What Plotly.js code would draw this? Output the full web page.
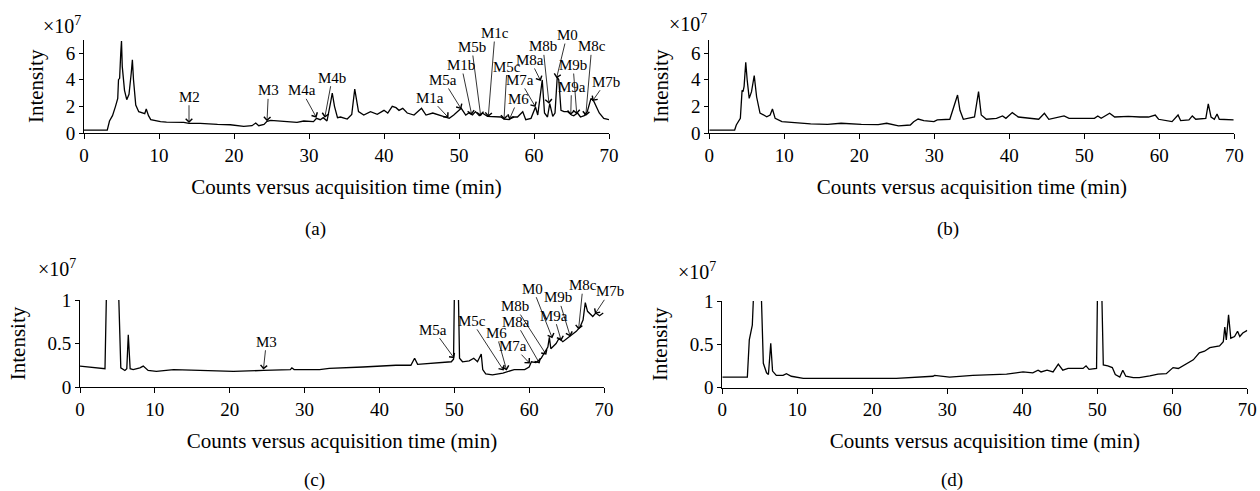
<!DOCTYPE html>
<html><head><meta charset="utf-8">
<script src="https://cdn.plot.ly/plotly-3.0.1.min.js"></script>
<style>html,body{margin:0;padding:0;background:#fff}#chart{width:1260px;height:491px}</style>
</head><body><div id="chart"></div>
<script>
// ---------- DATA (time in min, intensity in units of 1e7) ----------
const timeA = [0,3.1,3.4,3.8,4.2,4.5,4.6,4.75,4.9,5.0,5.1,5.4,5.7,6.0,6.3,6.45,6.6,6.9,7.3,7.8,8.1,8.3,8.6,8.9,10.2,11.0,13.3,14.0,15.5,17.8,19.5,21.3,22.4,22.9,23.3,24.0,24.4,24.9,26.6,28.4,29.3,30.6,31.0,31.5,31.9,32.4,32.9,33.1,33.4,33.8,34.2,35.1,35.7,36.1,36.6,37.3,38.2,39.1,40.0,40.5,41.1,41.6,42.0,42.5,43.1,44.0,45.0,45.6,46.5,47.3,48.2,48.7,49.3,50.0,50.3,50.9,51.3,51.8,52.2,52.7,53.1,53.8,54.7,55.6,56.0,56.7,57.1,57.8,58.5,58.9,59.6,60.2,60.5,60.7,61.0,61.1,61.4,61.8,62.1,62.5,62.8,63.1,63.3,63.6,64.0,64.5,65.0,65.3,65.8,66.2,66.7,67.1,67.6,68.0,68.7,69.3,70.0];
const intensityA = [0.22,0.22,0.9,1.3,2.0,2.6,4.0,4.1,6.0,6.9,5.0,3.2,2.5,2.9,4.5,5.5,4.0,2.1,1.6,1.5,1.45,1.8,1.3,1.0,0.85,0.82,0.8,0.72,0.72,0.65,0.62,0.5,0.55,0.75,0.55,0.65,0.88,0.95,0.9,0.8,0.9,0.85,1.1,1.0,1.15,0.9,2.35,3.0,2.0,1.15,1.2,1.05,1.4,3.3,1.6,1.35,1.6,1.4,1.7,1.5,2.0,1.9,1.7,1.85,1.5,1.35,1.85,1.35,1.5,1.35,1.2,1.1,1.35,1.7,1.85,1.35,1.5,1.35,1.6,1.3,1.5,1.25,1.25,1.2,1.05,1.0,1.2,1.2,1.6,1.0,1.1,1.95,1.35,2.35,3.7,3.98,1.5,1.2,2.2,1.25,1.5,4.2,4.0,1.7,1.6,1.6,1.35,1.3,1.5,1.2,1.3,1.6,2.6,2.35,1.5,1.1,1.0];

const timeB = [0,3.38,3.6,4.14,4.37,4.5,4.64,4.86,5.05,5.32,5.63,5.99,6.31,6.76,7.66,8.11,8.42,8.78,9.68,11.26,13.51,15.77,17.57,20.27,22.52,23.65,25.23,26.8,27.25,27.84,28.6,29.95,30.4,32.07,32.52,33.1,33.42,33.87,35.36,35.9,36.26,36.94,38.29,39.1,39.55,40.4,41.2,43.24,43.92,44.68,45.27,47.3,47.97,51.35,51.8,52.25,53.38,54.05,55.86,57.43,58.56,59.46,59.9,61.7,62.5,62.84,63.96,64.4,64.86,66.2,66.53,66.9,67.34,67.7,68.0,69.9];
const intensityB = [0.22,0.22,0.6,1.1,3.2,3.1,3.5,5.3,3.98,2.6,3.1,4.3,2.7,1.5,1.22,1.35,1.8,1.1,0.85,0.78,0.68,0.65,0.73,0.65,0.63,0.73,0.53,0.6,0.85,1.05,0.93,0.85,0.98,1.03,1.85,2.85,1.7,1.03,1.2,3.1,1.35,1.03,1.1,1.28,1.1,1.53,1.2,1.03,1.03,1.48,1.03,1.28,1.1,1.1,1.28,1.1,1.48,1.2,1.25,1.2,1.2,1.35,1.03,0.85,1.35,0.93,0.98,1.28,1.03,1.1,2.18,1.2,1.03,1.43,1.03,0.98];

const timeC = [0,3.34,3.56,4.4,5.12,5.45,6.0,6.25,6.45,6.7,7.1,8.0,8.45,9.1,10.2,12.5,16.0,20.5,24.5,28.1,28.3,28.6,32.0,33.3,37.8,42.2,44.2,44.7,45.1,48.0,49.6,49.9,50.05,50.3,50.5,50.7,51.1,52.0,52.6,52.9,53.1,53.6,53.8,54.2,55.1,56.5,57.4,58.0,59.4,60.0,60.3,60.9,61.6,62.2,62.5,62.7,62.9,63.6,64.0,64.5,65.4,66.3,66.8,67.2,67.5,67.8,68.5,68.9,69.4,69.9];
const intensityC = [0.24,0.21,1.2,5.0,1.2,0.22,0.19,0.21,0.6,0.21,0.2,0.22,0.24,0.19,0.18,0.2,0.19,0.18,0.19,0.2,0.22,0.2,0.2,0.215,0.23,0.25,0.25,0.33,0.26,0.28,0.29,0.32,1.3,3.0,1.3,0.33,0.29,0.3,0.33,0.31,0.29,0.38,0.2,0.15,0.14,0.16,0.18,0.2,0.2,0.23,0.29,0.28,0.33,0.41,0.46,0.57,0.44,0.5,0.56,0.52,0.58,0.64,0.69,0.77,0.97,0.87,0.81,0.85,0.82,0.85];

const timeD = [0,3.34,3.6,3.78,4.0,4.23,4.7,5.16,5.47,5.9,6.15,6.46,6.7,7.2,8.1,8.55,9.2,10.8,14.3,18.8,23.2,28.1,28.3,30.3,33.4,37.9,40.1,41.4,42.1,42.5,43.3,44.1,44.8,45.4,46.1,48.1,48.5,48.9,49.9,50.05,50.3,50.55,50.8,51.4,52.0,52.4,53.0,53.4,53.8,54.8,55.6,57.0,58.1,59.2,59.6,60.1,60.8,61.9,62.8,63.6,64.3,65.0,65.6,66.3,66.8,67.0,67.2,67.5,67.8,68.3,68.7,69.0,69.4,70.0];
const intensityD = [0.12,0.12,0.55,0.65,0.72,1.2,5.0,1.2,0.28,0.17,0.15,0.51,0.19,0.14,0.14,0.16,0.13,0.105,0.105,0.1,0.105,0.13,0.14,0.12,0.14,0.155,0.18,0.17,0.2,0.18,0.2,0.18,0.27,0.2,0.22,0.22,0.25,0.21,0.22,1.3,3.0,1.3,0.26,0.25,0.23,0.15,0.12,0.2,0.13,0.115,0.115,0.135,0.155,0.16,0.19,0.23,0.22,0.28,0.32,0.4,0.42,0.46,0.47,0.48,0.53,0.7,0.55,0.84,0.57,0.59,0.65,0.59,0.63,0.66];

// peak labels: label, label position (time, intensity), arrow tip (time, intensity)
const labelsA   = ['M2','M3','M4a','M4b','M1a','M5a','M1b','M5b','M1c','M5c','M7a','M6','M8a','M8b','M0','M9b','M8c','M9a','M7b'];
const labelTA   = [14.0,24.6,29.0,33.1,46.1,47.9,50.3,51.7,54.8,56.4,58.1,57.9,59.5,61.2,64.4,65.2,67.7,65.0,69.6];
const labelVA   = [2.72,3.2,3.2,4.15,2.65,3.98,5.1,6.45,7.5,4.97,3.98,2.55,5.48,6.5,7.35,5.1,6.5,3.47,3.85];
const tipTA     = [14.0,24.4,31.0,32.1,48.6,50.3,51.7,52.9,53.9,56.0,60.2,56.7,60.9,62.0,63.0,65.7,66.9,64.9,67.8];
const tipVA     = [0.75,0.88,1.15,1.15,1.15,1.8,1.35,1.25,1.2,1.0,1.95,1.0,3.9,2.2,4.1,1.4,1.28,1.35,2.4];

const labelsC   = ['M3','M5a','M5c','M6','M7a','M8a','M8b','M0','M9a','M9b','M8c','M7b'];
const labelTC   = [24.9,47.2,52.3,55.6,57.9,58.2,58.1,60.5,63.3,63.9,67.2,70.8];
const labelVC   = [0.52,0.66,0.76,0.62,0.47,0.75,0.93,1.13,0.82,1.03,1.17,1.1];
const tipTC     = [24.5,50.0,56.6,57.0,60.1,61.4,62.3,63.1,64.3,65.5,66.6,68.8];
const tipVC     = [0.2,0.33,0.19,0.19,0.27,0.27,0.37,0.56,0.53,0.58,0.66,0.84];

const xTicks = [0,10,20,30,40,50,60,70];
const yTicksTop = [0,2,4,6];
const yTicksBottom = [0,0.5,1];
const xTitle = 'Counts versus acquisition time (min)';
const yTitle = 'Intensity';
const panelTags = ['(a)','(b)','(c)','(d)'];

// ---------- LAYOUT ----------
const W = 1260, H = 491;
const F = "'Liberation Serif', 'Times New Roman', serif";
const px2x = p => p / W;
const px2y = p => 1 - p / H;

function line(t, v, xa, ya) {
  return {x: t, y: v, xaxis: xa, yaxis: ya, type: 'scatter', mode: 'lines',
          line: {color: '#000', width: 1.3}, hoverinfo: 'skip', showlegend: false};
}
function xAxis(d0, d1, anchor) {
  return {domain: [px2x(d0), px2x(d1)], anchor: anchor, range: [0, 70], tickvals: xTicks,
    showline: true, linecolor: '#000', linewidth: 1, ticks: 'outside', ticklen: 5, tickwidth: 1, tickcolor: '#000',
    showgrid: false, zeroline: false, tickfont: {family: F, size: 19, color: '#000'},
    title: {text: xTitle, font: {family: F, size: 21, color: '#000'}, standoff: 14}, fixedrange: true};
}
function yAxis(p0, p1, anchor, range, ticks) {
  return {domain: [px2y(p0), px2y(p1)], anchor: anchor, range: range, tickvals: ticks,
    showline: true, linecolor: '#000', linewidth: 1, ticks: 'outside', ticklen: 4, tickwidth: 1, tickcolor: '#000',
    showgrid: false, zeroline: false, tickfont: {family: F, size: 19, color: '#000'},
    title: {text: yTitle, font: {family: F, size: 21, color: '#000'}, standoff: 16}, fixedrange: true};
}

const data = [
  line(timeA, intensityA, 'x', 'y'),
  line(timeB, intensityB, 'x2', 'y2'),
  line(timeC, intensityC, 'x3', 'y3'),
  line(timeD, intensityD, 'x4', 'y4')
];

const annotations = [];
function addPeakLabels(labels, lt, lv, tt, tv, xr, yr) {
  labels.forEach((lab, i) => {
    annotations.push({xref: xr, yref: yr, axref: xr, ayref: yr, x: tt[i], y: tv[i], ax: lt[i], ay: lv[i],
      text: lab, showarrow: true, arrowhead: 4, arrowsize: 1.6, arrowwidth: 0.8, arrowcolor: '#000',
      standoff: 0, borderpad: 0, font: {family: F, size: 15, color: '#000'}});
  });
}
addPeakLabels(labelsA, labelTA, labelVA, tipTA, tipVA, 'x', 'y');
addPeakLabels(labelsC, labelTC, labelVC, tipTC, tipVC, 'x3', 'y3');

// exponent markers and panel tags
[[62, 25], [688, 23], [57, 268], [697, 271]].forEach(p => {
  annotations.push({xref: 'paper', yref: 'paper', x: px2x(p[0]), y: px2y(p[1]), xanchor: 'center', yanchor: 'middle',
    text: '×10<sup>7</sup>', showarrow: false, font: {family: F, size: 20, color: '#000'}});
});
[[315, 229], [948, 229], [314, 480], [952, 480]].forEach((p, i) => {
  annotations.push({xref: 'paper', yref: 'paper', x: px2x(p[0]), y: px2y(p[1]), xanchor: 'center', yanchor: 'middle',
    text: panelTags[i], showarrow: false, font: {family: F, size: 19, color: '#000'}});
});

const layout = {
  width: W, height: H, margin: {l: 0, r: 0, t: 0, b: 0},
  paper_bgcolor: '#fff', plot_bgcolor: '#fff', showlegend: false,
  xaxis:  xAxis(84, 609, 'y'),
  yaxis:  yAxis(133, 39.7, 'x', [0, 7], yTicksTop),
  xaxis2: xAxis(709.3, 1234.3, 'y2'),
  yaxis2: yAxis(133, 39.7, 'x2', [0, 7], yTicksTop),
  xaxis3: xAxis(80, 604, 'y3'),
  yaxis3: yAxis(387, 300, 'x3', [0, 1], yTicksBottom),
  xaxis4: xAxis(722.3, 1247.3, 'y4'),
  yaxis4: yAxis(387.5, 301, 'x4', [0, 1], yTicksBottom),
  annotations: annotations
};

Plotly.newPlot('chart', data, layout, {displayModeBar: false, staticPlot: true});
</script>
</body></html>
